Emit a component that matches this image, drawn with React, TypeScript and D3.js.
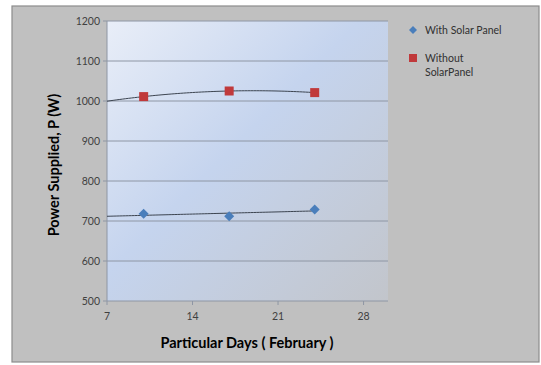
import React from "react";
import * as d3 from "d3";

const days = [10, 17, 24];
const withSolar = [718, 712, 729];
const withoutSolar = [1011, 1025, 1021];
const xTicks = [7, 14, 21, 28];
const yTicks = [500, 600, 700, 800, 900, 1000, 1100, 1200];
const seriesNames = ["With Solar Panel", "Without SolarPanel"];

const W = 541;
const H = 365;
const plot = { left: 107, right: 388, top: 21, bottom: 301 };
const FONT = "Lato, 'Open Sans', sans-serif";

// Least-squares polynomial fit (degree 1 or 2), returns coefficients c0 + c1 x + c2 x^2
function polyFit(xs: number[], ys: number[], degree: number): number[] {
  const n = degree + 1;
  const A: number[][] = [];
  for (let i = 0; i < n; i++) {
    A.push([]);
    for (let j = 0; j < n; j++) A[i].push(d3.sum(xs, (x) => Math.pow(x, i + j)));
    A[i].push(d3.sum(xs, (x, k) => Math.pow(x, i) * ys[k]));
  }
  for (let c = 0; c < n; c++) {
    let p = c;
    for (let r = c + 1; r < n; r++) if (Math.abs(A[r][c]) > Math.abs(A[p][c])) p = r;
    [A[c], A[p]] = [A[p], A[c]];
    for (let r = 0; r < n; r++) {
      if (r === c) continue;
      const f = A[r][c] / A[c][c];
      for (let k = c; k <= n; k++) A[r][k] -= f * A[c][k];
    }
  }
  return A.map((row, i) => row[n] / row[i]);
}

export default function App() {
  const x = d3.scaleLinear().domain([7, 30]).range([plot.left, plot.right]);
  const y = d3.scaleLinear().domain([500, 1200]).range([plot.bottom, plot.top]);

  const trend = (ys: number[], degree: number) => {
    const c = polyFit(days, ys, degree);
    const pts = d3.range(7, 24.01, 0.25).map((d) => [d, c.reduce((s, ci, i) => s + ci * Math.pow(d, i), 0)] as [number, number]);
    return d3.line<[number, number]>().x((d) => x(d[0])).y((d) => y(d[1]))(pts) || "";
  };

  // Square diamond marker (a square rotated 45°)
  const diamond = (r: number) => `M0,${-r}L${r},0L0,${r}L${-r},0Z`;

  return (
    <svg width={W} height={H} style={{ position: "absolute", left: 0, top: 0 }}>
      <defs>
        <linearGradient id="plotFill" x1="0" y1="0" x2="1" y2="1">
          <stop offset="0" stopColor="#e9eef8" />
          <stop offset="0.45" stopColor="#c5d4ee" />
          <stop offset="1" stopColor="#c2c5cb" />
        </linearGradient>
      </defs>
      <rect x={0} y={0} width={W} height={H} fill="#ffffff" />
      <rect x={12} y={6} width={527} height={356} fill="#c0c0c0" stroke="#8c8c8c" strokeWidth={1.2} />
      <rect x={plot.left} y={plot.top} width={plot.right - plot.left} height={plot.bottom - plot.top} fill="url(#plotFill)" />

      {yTicks.map((t) => (
        <g key={t}>
          {t > 500 && (
            <line x1={plot.left} x2={plot.right} y1={y(t)} y2={y(t)} stroke="#8e96a4" strokeWidth={1} />
          )}
          <line x1={plot.left - 4} x2={plot.left} y1={y(t)} y2={y(t)} stroke="#8e96a4" />
          <text x={plot.left - 7} y={y(t)} dy="0.35em" textAnchor="end" fontFamily={FONT} fontSize={10.5} fill="#404040">
            {t}
          </text>
        </g>
      ))}
      <line x1={plot.left} x2={plot.left} y1={plot.top} y2={plot.bottom} stroke="#8e96a4" />
      <line x1={plot.left} x2={plot.right} y1={plot.bottom} y2={plot.bottom} stroke="#8e96a4" />
      {xTicks.map((t) => (
        <g key={t}>
          <line x1={x(t)} x2={x(t)} y1={plot.bottom} y2={plot.bottom + 4} stroke="#8e96a4" />
          <text x={x(t)} y={plot.bottom + 19} textAnchor="middle" fontFamily={FONT} fontSize={10.5} fill="#404040">
            {t}
          </text>
        </g>
      ))}

      <path d={trend(withSolar, 1)} fill="none" stroke="#3c4450" strokeWidth={1} />
      <path d={trend(withoutSolar, 2)} fill="none" stroke="#3c4450" strokeWidth={1} />

      {days.map((d, i) => (
        <path key={"s" + d} d={diamond(5)} transform={`translate(${x(d)},${y(withSolar[i])})`} fill="#4a7ebb" />
      ))}
      {days.map((d, i) => (
        <rect key={"w" + d} x={x(d) - 4.5} y={y(withoutSolar[i]) - 4.5} width={9} height={9} fill="#c0393b" />
      ))}

      <text
        transform={`translate(59,${(plot.top + plot.bottom) / 2 + 4}) rotate(-90)`}
        textAnchor="middle"
        fontFamily={FONT}
        fontWeight="bold"
        fontSize={14.5}
        fill="#000"
      >
        Power Supplied, P (W)
      </text>
      <text x={247} y={348} textAnchor="middle" fontFamily={FONT} fontWeight="bold" fontSize={14.5} fill="#000">
        Particular Days ( February )
      </text>

      <path d={diamond(4)} transform="translate(413,30)" fill="#4a7ebb" />
      <text x={425} y={30} dy="0.35em" fontFamily={FONT} fontSize={10.5} fill="#303030">
        {seriesNames[0]}
      </text>
      <rect x={409} y={54} width={8} height={8} fill="#c0393b" />
      <text x={425} y={58} dy="0.35em" fontFamily={FONT} fontSize={10.5} fill="#303030">
        Without
      </text>
      <text x={425} y={72} dy="0.35em" fontFamily={FONT} fontSize={10.5} fill="#303030">
        SolarPanel
      </text>
    </svg>
  );
}
